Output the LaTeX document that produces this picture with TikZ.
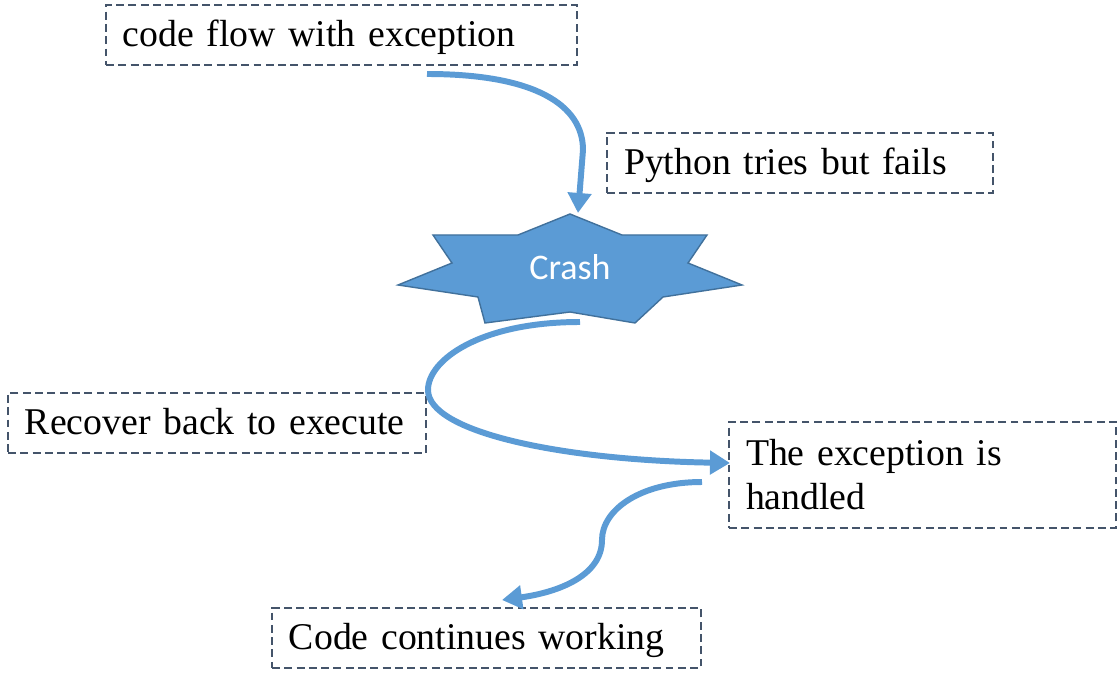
\documentclass[tikz,border=0pt]{standalone}
\usepackage{fontspec}
\setmainfont{Liberation Serif}
\newfontfamily\crashfont{Carlito}
\usetikzlibrary{arrows.meta}
\definecolor{flowblue}{RGB}{91,155,213}
\definecolor{starline}{RGB}{65,113,156}
\definecolor{boxline}{RGB}{68,84,106}
\begin{document}
\begin{tikzpicture}[x=0.02cm, y=-0.02cm,
    >={Triangle[length=0.4cm,width=0.46cm]},
    note/.style={draw=boxline, line width=1.1pt, dash pattern=on 4.5pt off 2.5pt,
        anchor=north west, inner xsep=0.34cm, inner ysep=0pt, outer sep=0pt,
        align=left, minimum height=1.2cm, font=\fontsize{21.5}{25}\selectfont},
    oneline/.style={note, text height=0.56cm, text depth=0.08cm},
    flow/.style={->, draw=flowblue, line width=3.4pt}]
    \useasboundingbox (0,0) rectangle (1117,685);
    % text boxes
    \node[oneline, text width=8.74cm] (codeflow) at (106,5) {code flow with exception};
    \node[oneline, text width=7.04cm] (tries) at (607,133) {Python tries but fails};
    \node[oneline, text width=7.68cm] (recover) at (8,393) {Recover back to execute};
    \node[note, text width=7.06cm, minimum height=2.12cm] (handled) at (729,422) {The exception is\\handled};
    \node[oneline, text width=7.9cm] (continues) at (272,608) {Code continues working};
    % the crash star
    \filldraw[fill=flowblue, draw=starline, line width=0.8pt]
        (570,214) -- (622,235) -- (707,235) -- (688,263) -- (742,285) -- (663,297)
        -- (635,323) -- (570,312) -- (485,323) -- (478,297) -- (398,285)
        -- (452,263) -- (433,235) -- (518,235) -- cycle;
    \node[text=white, font=\crashfont\fontsize{20.5}{24}\selectfont] (crash) at (570,267) {Crash};
    % arrow ends
    \coordinate (s1) at (427,74);
    \coordinate (e1) at (578,213);
    \coordinate (s2) at (580,322);
    \coordinate (e2) at (730,463);
    \coordinate (s3) at (702,482);
    \coordinate (e3) at (502,600);
    % arrows
    \draw[flow] (s1) .. controls (535,74) and (583,105) .. (583,150) -- (e1);
    \draw[flow] (s2) .. controls (480,322) and (428,360) .. (428,390)
        .. controls (428,432) and (560,460) .. (e2);
    \draw[flow] (s3) .. controls (640,482) and (602,510) .. (602,540)
        .. controls (602,575) and (560,592) .. (e3);
\end{tikzpicture}
\end{document}
